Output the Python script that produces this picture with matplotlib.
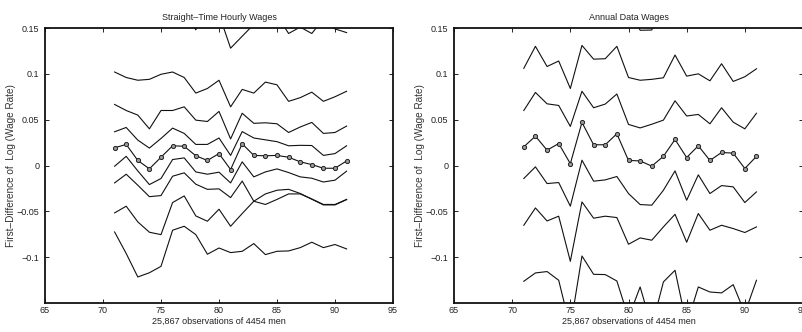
import matplotlib
matplotlib.use("Agg")
import matplotlib.pyplot as plt

years = list(range(71, 92))

# Straight-time hourly wages (percentile lines; L_med = median with markers)
L_top = [0.19, 0.18, 0.18, 0.175, 0.18, 0.185, 0.17, 0.148, 0.172, 0.165, 0.128,
         0.141, 0.154, 0.17, 0.164, 0.144, 0.151, 0.144, 0.16, 0.149, 0.145]
L_A = [0.102, 0.096, 0.093, 0.094, 0.0995, 0.102, 0.096, 0.079, 0.084, 0.093, 0.064,
       0.083, 0.079, 0.091, 0.088, 0.070, 0.074, 0.080, 0.070, 0.075, 0.081]
L_B = [0.0666, 0.060, 0.055, 0.040, 0.060, 0.060, 0.064, 0.0495, 0.048, 0.059, 0.029,
       0.057, 0.046, 0.0466, 0.0455, 0.036, 0.042, 0.047, 0.035, 0.036, 0.043]
L_C = [0.0368, 0.0415, 0.0277, 0.019, 0.0295, 0.0408, 0.035, 0.023, 0.023, 0.030, 0.011,
       0.037, 0.030, 0.028, 0.026, 0.0215, 0.022, 0.0218, 0.011, 0.013, 0.0215]
L_med = [0.0193, 0.023, 0.0055, -0.0036, 0.009, 0.0215, 0.021, 0.0106, 0.0055, 0.013, -0.0044,
         0.0237, 0.011, 0.0106, 0.011, 0.009, 0.004, 0.001, -0.003, -0.003, 0.005]
L_D = [-0.0008, 0.010, -0.0059, -0.0208, -0.0142, 0.0065, 0.0083, -0.007, -0.0095, -0.0073, -0.019,
       0.004, -0.0124, -0.007, -0.0037, -0.0077, -0.0124, -0.0139, -0.018, -0.016, -0.0062]
L_E = [-0.019, -0.0095, -0.0215, -0.034, -0.0328, -0.0117, -0.008, -0.0204, -0.026, -0.0255, -0.035,
       -0.017, -0.039, -0.0425, -0.037, -0.031, -0.031, -0.0365, -0.0425, -0.0425, -0.037]
L_F = [-0.0517, -0.0444, -0.0615, -0.0728, -0.0754, -0.0404, -0.0332, -0.055, -0.0608, -0.0477, -0.0663,
       -0.0524, -0.039, -0.031, -0.027, -0.026, -0.0305, -0.0368, -0.043, -0.043, -0.0372]
L_G = [-0.0725, -0.096, -0.1216, -0.117, -0.110, -0.0706, -0.0663, -0.0754, -0.0968, -0.090, -0.095,
       -0.0936, -0.0852, -0.0972, -0.0936, -0.0932, -0.0896, -0.0837, -0.0896, -0.0862, -0.091]

# Annual data wages
R_top = [0.19, 0.2, 0.18, 0.19, 0.17, 0.2, 0.19, 0.19, 0.2, 0.175, 0.1475,
         0.1478, 0.18, 0.2, 0.18, 0.19, 0.18, 0.2, 0.18, 0.18, 0.19]
R_1 = [0.106, 0.130, 0.108, 0.114, 0.084, 0.131, 0.116, 0.1165, 0.130, 0.096, 0.093,
       0.094, 0.0957, 0.1205, 0.0975, 0.100, 0.0924, 0.111, 0.0917, 0.0968, 0.1055]
R_2 = [0.060, 0.0797, 0.0673, 0.0655, 0.0426, 0.081, 0.063, 0.067, 0.078, 0.0448, 0.041,
       0.045, 0.0495, 0.0706, 0.054, 0.0557, 0.0455, 0.063, 0.0473, 0.040, 0.057]
R_med = [0.0204, 0.032, 0.0167, 0.024, 0.002, 0.047, 0.0226, 0.0226, 0.0346, 0.0055, 0.005,
         -0.0007, 0.010, 0.0284, 0.0087, 0.0215, 0.0055, 0.0142, 0.0135, -0.0033, 0.010]
R_4 = [-0.0142, -0.0015, -0.0197, -0.0186, -0.0444, 0.0058, -0.0171, -0.0157, -0.012, -0.0306, -0.0426,
       -0.0433, -0.027, -0.0059, -0.0379, -0.0102, -0.0306, -0.0219, -0.0233, -0.0404, -0.0288]
R_5 = [-0.0652, -0.0463, -0.0605, -0.0553, -0.1045, -0.0397, -0.0575, -0.0553, -0.0568, -0.0859, -0.079,
       -0.0815, -0.067, -0.0532, -0.0837, -0.0524, -0.0706, -0.0652, -0.0688, -0.0731, -0.067]
R_6 = [-0.1263, -0.1172, -0.1157, -0.1252, -0.177, -0.0987, -0.1187, -0.119, -0.126, -0.166, -0.1325,
       -0.176, -0.127, -0.1143, -0.174, -0.1325, -0.138, -0.139, -0.13, -0.161, -0.1252]

titles = ["Straight\u2013Time Hourly Wages", "Annual Data Wages"]
ylabel = "First\u2013Difference of  Log (Wage Rate)"
xlabel = "25,867 observations of 4454 men"
xticks = [65, 70, 75, 80, 85, 90, 95]
yticks = [-0.1, -0.05, 0, 0.05, 0.1, 0.15]
ytick_labels = ["\u22120.1", "\u22120.05", "0", "0.05", "0.1", "0.15"]

plt.rcParams['font.family'] = ['Liberation Sans', 'DejaVu Sans']
plt.rcParams['font.size'] = 6.5

W, H = 802, 332
fig = plt.figure(figsize=(W / 100, H / 100), dpi=100)
axL = fig.add_axes([45 / W, 29 / H, 348 / W, 275 / H])
axR = fig.add_axes([454 / W, 29 / H, 349 / W, 275 / H])

panels = [
    (axL, [L_top, L_A, L_B, L_C, L_D, L_E, L_F, L_G], L_med),
    (axR, [R_top, R_1, R_2, R_4, R_5, R_6], R_med),
]

for i, (ax, lines, med) in enumerate(panels):
    for s in lines:
        ax.plot(years, s, color='#111111', lw=0.8)
    ax.plot(years, med, color='#111111', lw=0.8, marker='o', ms=3.0,
            mfc='#9a9a9a', mec='#222222', mew=0.7)
    ax.set_xlim(65, 95)
    ax.set_ylim(-0.15, 0.15)
    ax.set_xticks(xticks)
    ax.set_yticks(yticks)
    ax.set_yticklabels(ytick_labels)
    ax.tick_params(direction='in', length=3, width=0.7, top=True, right=True,
                   labelsize=6.5, colors='#222222')
    ax.tick_params(axis='x', pad=2)
    ax.tick_params(axis='y', pad=4)
    for sp in ax.spines.values():
        sp.set_linewidth(1.3)
        sp.set_color('#111111')
    ax.set_title(titles[i], fontsize=6.5, color='#222222', pad=6)
    ax.set_ylabel(ylabel, fontsize=7.2, color='#333333')
    ax.yaxis.set_label_coords(-0.082, 0.5)
    ax.set_xlabel(xlabel, fontsize=6.5, color='#222222')
    ax.xaxis.set_label_coords(0.5, -0.052)

fig.savefig("out.png", dpi=100)
